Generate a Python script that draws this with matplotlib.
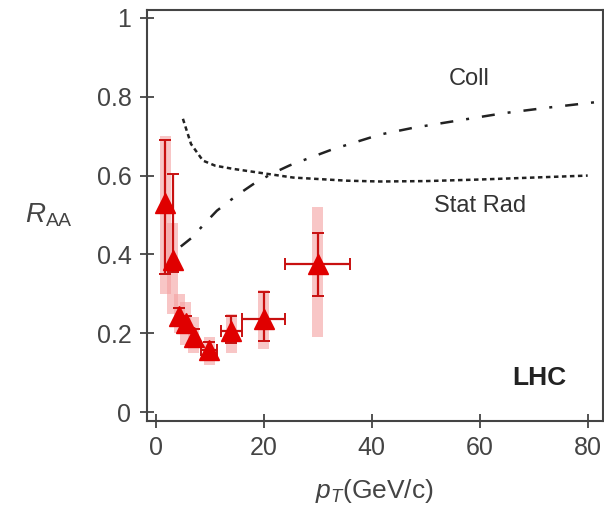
import numpy as np
import matplotlib.pyplot as plt
from matplotlib.patches import Rectangle

plt.rcParams['font.family'] = ['Liberation Sans', 'DejaVu Sans']
plt.rcParams['mathtext.fontset'] = 'custom'
plt.rcParams['mathtext.rm'] = 'Liberation Sans'
plt.rcParams['mathtext.it'] = 'Liberation Sans:italic'

# data points (LHC)
pt = [1.7, 3.1, 4.3, 5.5, 7.0, 9.9, 14.0, 20.0, 30.0]
raa = [0.53, 0.385, 0.245, 0.225, 0.19, 0.157, 0.205, 0.235, 0.375]
err_lo = [0.18, 0.03, 0.02, 0.02, 0.02, 0.02, 0.03, 0.055, 0.08]
err_hi = [0.16, 0.22, 0.02, 0.02, 0.02, 0.02, 0.04, 0.07, 0.08]
pt_err = [0.0, 0.0, 0.0, 0.0, 0.0, 1.5, 2.0, 4.0, 6.0]
sys_lo = [0.30, 0.25, 0.20, 0.17, 0.15, 0.12, 0.15, 0.16, 0.19]
sys_hi = [0.70, 0.48, 0.30, 0.28, 0.24, 0.19, 0.25, 0.31, 0.52]

# model curves
coll_x = [4.6, 6.7, 9.0, 11.3, 15.0, 18.0, 21.5, 24.8, 32.6, 41.5, 47.6, 55.7, 64.3, 72.4, 82.0]
coll_y = [0.42, 0.443, 0.478, 0.511, 0.55, 0.578, 0.605, 0.626, 0.666, 0.704, 0.721, 0.739, 0.758, 0.772, 0.787]
rad_x = [5.0, 6.5, 8.7, 11.0, 14.3, 19.3, 25.4, 35.4, 41.5, 50.0, 60.0, 70.0, 80.0]
rad_y = [0.744, 0.68, 0.638, 0.625, 0.617, 0.607, 0.595, 0.587, 0.585, 0.586, 0.59, 0.595, 0.60]

fig = plt.figure(figsize=(6.04, 5.13), dpi=100)
ax = fig.add_axes([0.243, 0.179, 0.755, 0.8015])

red = '#e00000'
for x, lo, hi in zip(pt, sys_lo, sys_hi):
    ax.add_patch(Rectangle((x - 1.0, lo), 2.0, hi - lo, color='#f4a0a0', alpha=0.6, lw=0, zorder=1))

ax.errorbar(pt, raa, yerr=[err_lo, err_hi], xerr=pt_err, fmt='none', ecolor='#c81010',
            elinewidth=1.6, capsize=4, capthick=1.4, zorder=2)
ax.plot(pt, raa, '^', color=red, markersize=15, zorder=3)

ax.plot(coll_x, coll_y, color='#222222', lw=1.8, dashes=[5.2, 5.2, 1.2, 5.2], zorder=2)
ax.plot(rad_x, rad_y, color='#222222', lw=1.8, dashes=[1.8, 1.4], zorder=2)

ax.text(58, 0.845, 'Coll', fontsize=17, color='#333333', ha='center', va='center')
ax.text(60, 0.522, 'Stat Rad', fontsize=17, color='#333333', ha='center', va='center')
ax.text(71, 0.087, 'LHC', fontsize=19, fontweight='bold', color='#222222', ha='center', va='center')

ax.set_xlim(-1.7, 82.8)
ax.set_ylim(-0.023, 1.02)
ax.set_xticks([0, 20, 40, 60, 80])
ax.set_yticks([0, 0.2, 0.4, 0.6, 0.8, 1])
ax.set_yticklabels(['0', '0.2', '0.4', '0.6', '0.8', '1'])
ax.tick_params(direction='inout', length=10, width=1.3, color='#444444',
               labelsize=18, labelcolor='#444444', pad=6)
for s in ax.spines.values():
    s.set_color('#444444')
    s.set_linewidth(1.5)

ax.set_xlabel('$p_T$(GeV/c)', fontsize=19, color='#444444', labelpad=12)
ax.set_ylabel('$R_{\\rm AA}$', fontsize=20, color='#444444', rotation=0, labelpad=34, va='center')

fig.savefig('out.png', dpi=100)
